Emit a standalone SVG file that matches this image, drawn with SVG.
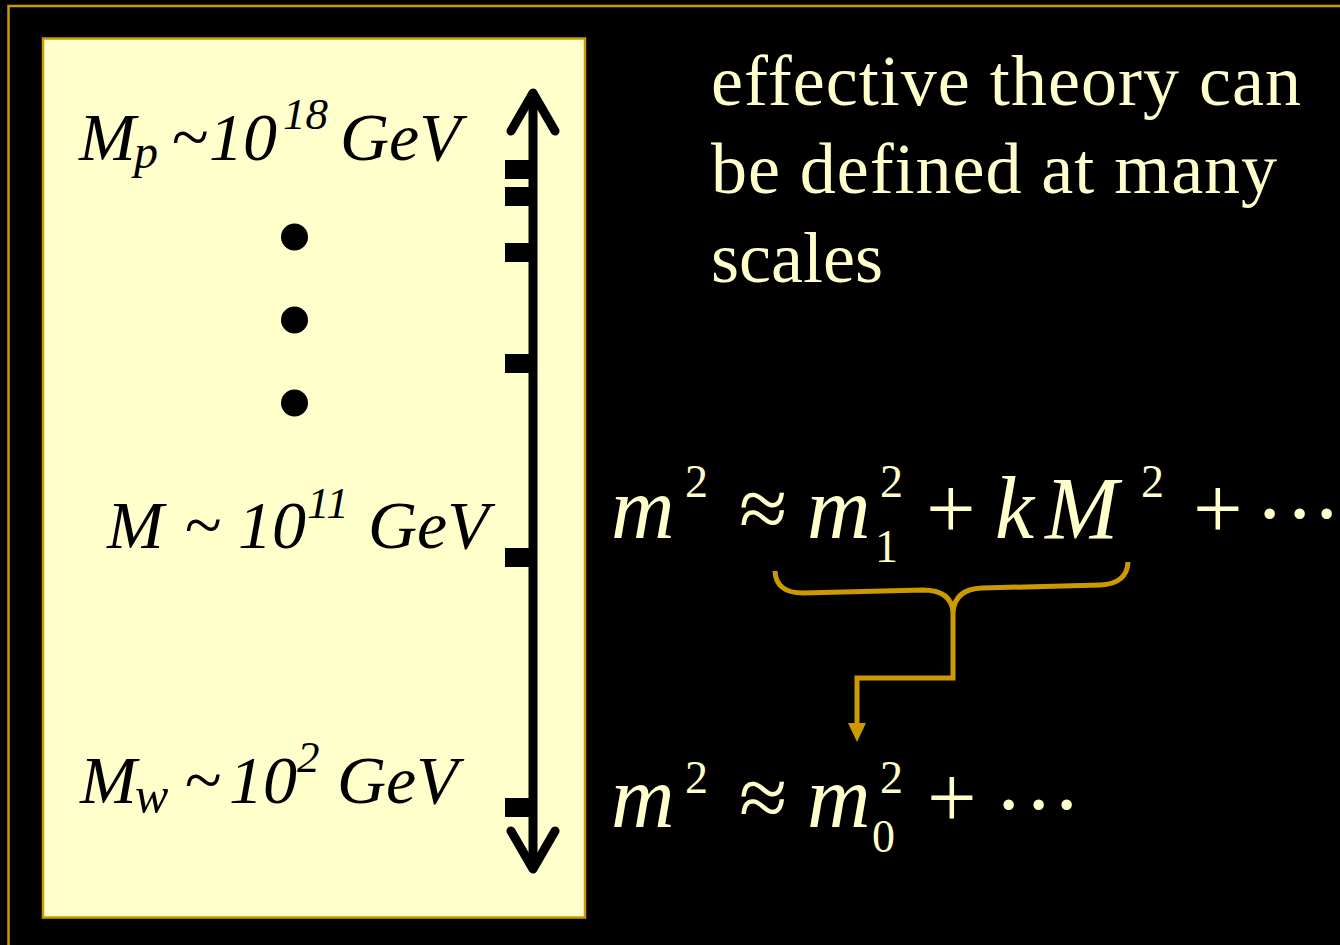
<svg xmlns="http://www.w3.org/2000/svg" width="1340" height="945" viewBox="0 0 1340 945">
<style>
.lbl{font-family:"Liberation Serif","Times New Roman",serif;font-style:italic;fill:#000}
.cream{font-family:"Liberation Serif","Times New Roman",serif;fill:#FFFFCC}
.it{font-style:italic}
.gold{fill:none;stroke:#CC9900;stroke-width:5}
.head{fill:#CC9900}
.tick{fill:#000}
</style>
<rect width="1340" height="945" fill="#000"/>
<rect x="8.5" y="6" width="1400" height="1000" fill="none" stroke="#CC9900" stroke-width="2.5"/>

<g id="scale-panel">
<rect x="43" y="38.5" width="542" height="879" fill="#FFFFCC" stroke="#CC9900" stroke-width="2.5"/>
<g id="axis">
<line x1="533" y1="96" x2="533" y2="866" stroke="#000" stroke-width="9"/>
<polyline points="511,131 533,93 555,131" fill="none" stroke="#000" stroke-width="9" stroke-linecap="round" stroke-linejoin="round"/>
<polyline points="511,831 533,869 555,831" fill="none" stroke="#000" stroke-width="9" stroke-linecap="round" stroke-linejoin="round"/>
<rect class="tick" x="505" y="160" width="28" height="19"/>
<rect class="tick" x="505" y="187" width="28" height="19"/>
<rect class="tick" x="505" y="243" width="28" height="19"/>
<rect class="tick" x="505" y="354" width="28" height="19"/>
<rect class="tick" x="505" y="548" width="28" height="19"/>
<rect class="tick" x="505" y="798" width="28" height="19"/>
</g>
<g id="dots">
<circle cx="294.5" cy="237" r="13.5" fill="#000"/>
<circle cx="294.5" cy="320" r="13.5" fill="#000"/>
<circle cx="294.5" cy="403" r="13.5" fill="#000"/>
</g>
</g>

<g id="label-planck">
<text class="lbl" font-size="68"><tspan x="79" y="160">M</tspan><tspan x="134" y="168" font-size="48">p</tspan><tspan x="171" y="160">~</tspan><tspan x="209" y="160">10</tspan><tspan x="283" y="129" font-size="45">18</tspan><tspan x="340" y="160">GeV</tspan></text>
</g>
<g id="label-intermediate">
<text class="lbl" font-size="68"><tspan x="107" y="548">M</tspan><tspan x="184" y="548">~</tspan><tspan x="238" y="548">10</tspan><tspan x="307" y="518" font-size="45">11</tspan><tspan x="368" y="548">GeV</tspan></text>
</g>
<g id="label-weak">
<text class="lbl" font-size="68"><tspan x="80" y="803">M</tspan><tspan x="135" y="812" font-size="50">w</tspan><tspan x="184" y="803">~</tspan><tspan x="229" y="803">10</tspan><tspan x="297" y="772" font-size="45">2</tspan><tspan x="337" y="803">GeV</tspan></text>
</g>

<g id="heading">
<text class="cream" font-size="72" x="711" y="105" textLength="590" lengthAdjust="spacing">effective theory can</text>
<text class="cream" font-size="72" x="711" y="193" textLength="566" lengthAdjust="spacing">be defined at many</text>
<text class="cream" font-size="72" x="711" y="282">scales</text>
</g>

<g id="eq-high">
<text class="cream" font-size="88"><tspan class="it" x="611" y="538">m</tspan><tspan x="685" y="497" font-size="46">2</tspan><tspan x="739" y="538">≈</tspan><tspan class="it" x="807" y="538">m</tspan><tspan x="880" y="497" font-size="46">2</tspan><tspan x="875" y="562" font-size="46">1</tspan><tspan x="926" y="538">+</tspan><tspan class="it" x="995" y="538">k</tspan><tspan class="it" x="1045" y="538">M</tspan><tspan x="1141" y="497" font-size="46">2</tspan><tspan x="1193" y="538">+</tspan><tspan x="1255 1285 1312" y="543">···</tspan></text>
</g>

<g id="eq-low">
<text class="cream" font-size="88"><tspan class="it" x="611" y="827">m</tspan><tspan x="685" y="793" font-size="46">2</tspan><tspan x="739" y="827">≈</tspan><tspan class="it" x="807" y="827">m</tspan><tspan x="880" y="793" font-size="46">2</tspan><tspan x="872" y="852" font-size="46">0</tspan><tspan x="927" y="827">+</tspan><tspan x="994 1024 1052" y="834">···</tspan></text>
</g>

<g id="connectors">
<path class="gold" d="M775,571 Q776,593 803,593 L923,590 Q951,590 953,612 Q955,589 982,588 L1100,585 Q1127,584 1128,562"/>
<path class="gold" d="M953,612 V678 H857 V724"/>
<polygon class="head" points="848,723 866,723 857,742"/>
</g>
</svg>
